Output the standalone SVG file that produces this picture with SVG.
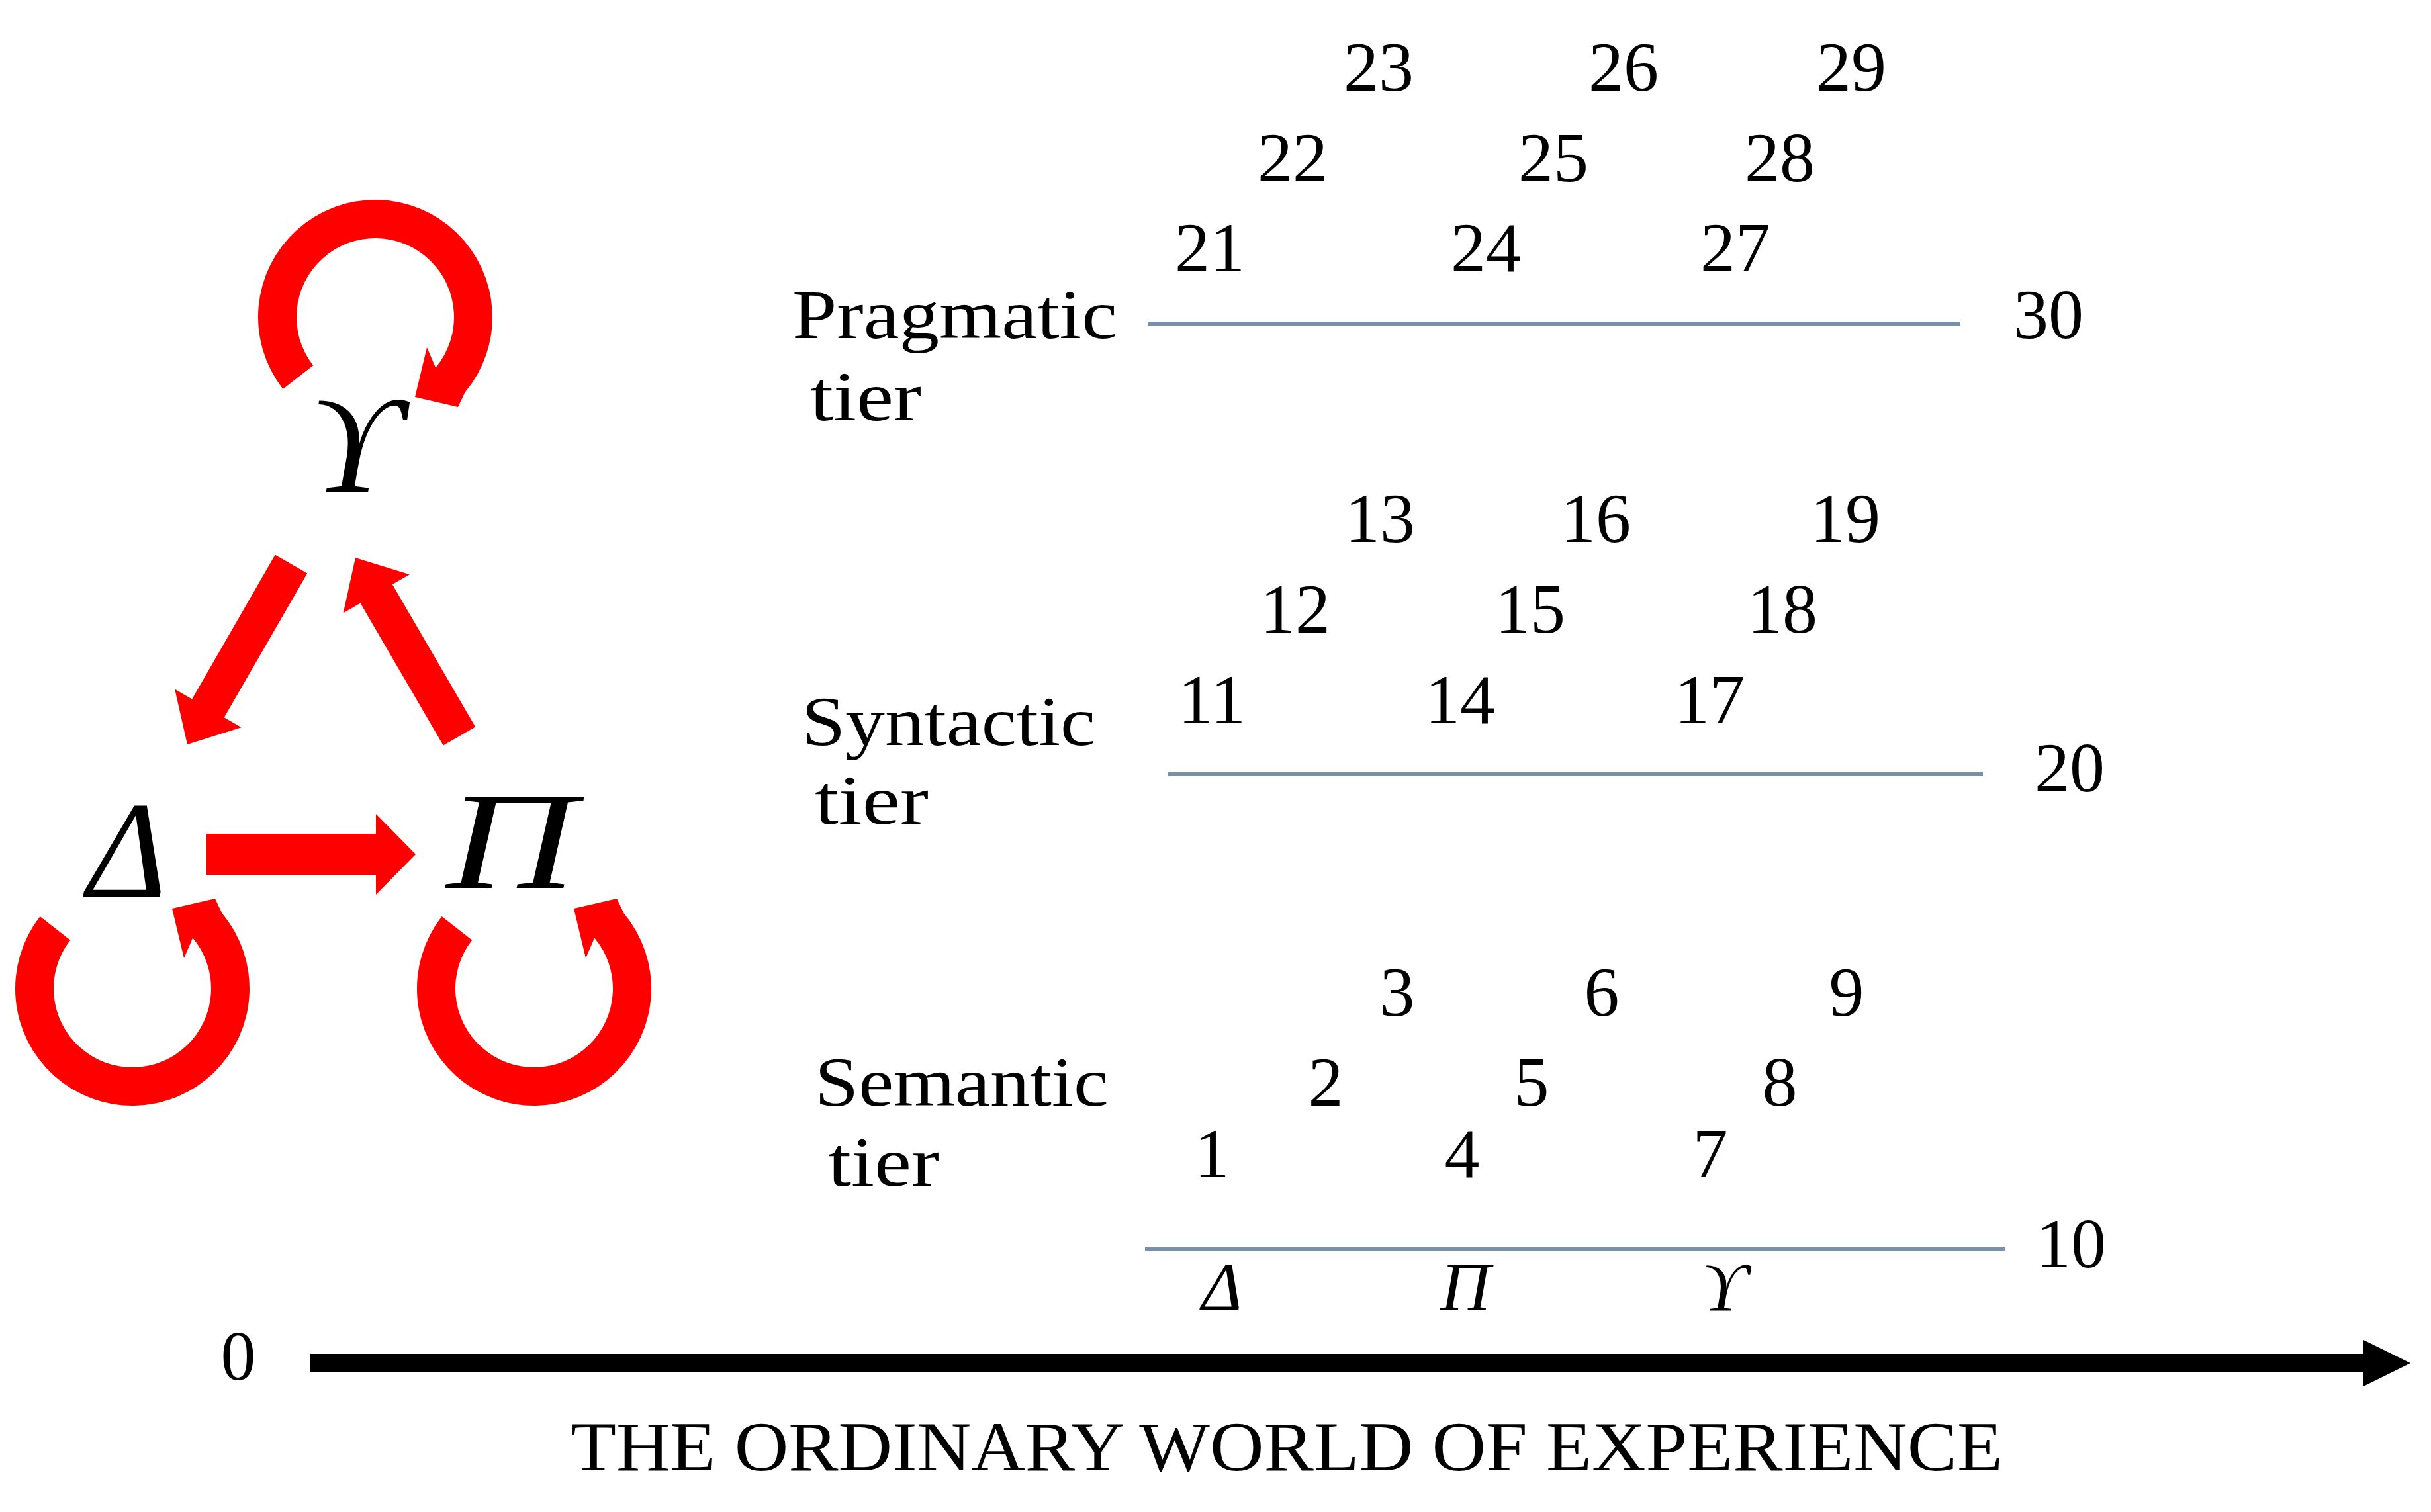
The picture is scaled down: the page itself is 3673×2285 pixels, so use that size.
<svg xmlns="http://www.w3.org/2000/svg" width="3673" height="2285" viewBox="0 0 3673 2285">
<style>
text{font-family:"Liberation Serif","DejaVu Serif",serif;fill:#000}
.num{font-size:106px;text-anchor:middle}
.lbl{font-size:106px}
.big{font-size:210px;font-style:italic;text-anchor:middle}
.sm{font-size:104px;font-style:italic;text-anchor:middle}
.red{fill:#ff0000}
.tier{stroke:#7890a8;stroke-width:6;fill:none}
</style>
<defs>
<path id="loop" d="M -139.5 109 A 177 177 0 1 1 135.6 113.8 L 125 136 L 60 121 L 78 46 L 91.2 76.5 A 119 119 0 1 0 -93.8 73.3 Z"/>
</defs>
<rect width="3673" height="2285" fill="#fff"/>

<g id="connectors">
<use href="#loop" class="red" transform="translate(567,479)"/>
<use href="#loop" class="red" transform="translate(200,1494) scale(1,-1)"/>
<use href="#loop" class="red" transform="translate(807,1494) scale(1,-1)"/>
<polygon class="red" points="415.7,838.6 464.3,866.4 338.7,1084.3 364.7,1099.3 283,1125 264.1,1041.5 290.1,1056.5"/>
<polygon class="red" points="718.2,1098.4 592.9,883.3 618.8,868.2 537,843 518.6,926.6 544.5,911.5 669.8,1126.6"/>
<polygon class="red" points="312,1260 568,1260 568,1230 628,1291 568,1352 568,1322 312,1322"/>
</g>

<g id="node-upsilon"><text class="big" x="536" y="743">ϒ</text></g>
<g id="node-delta"><text class="big" x="192" y="1356" textLength="120" lengthAdjust="spacingAndGlyphs">Δ</text></g>
<g id="node-pi"><text class="big" x="772" y="1342" textLength="195" lengthAdjust="spacingAndGlyphs">Π</text></g>

<g id="pragmatic-tier">
<text class="lbl" x="1197" y="511" textLength="491" lengthAdjust="spacingAndGlyphs">Pragmatic</text>
<text class="lbl" x="1224" y="635" textLength="168" lengthAdjust="spacingAndGlyphs">tier</text>
<line class="tier" x1="1734" y1="489" x2="2962" y2="489"/>
<text class="num" x="1828" y="410">21</text>
<text class="num" x="1953" y="274">22</text>
<text class="num" x="2083" y="137">23</text>
<text class="num" x="2245" y="410">24</text>
<text class="num" x="2347" y="274">25</text>
<text class="num" x="2453" y="137">26</text>
<text class="num" x="2622" y="410">27</text>
<text class="num" x="2689" y="274">28</text>
<text class="num" x="2797" y="137">29</text>
<text class="num" x="3095" y="511">30</text>
</g>

<g id="syntactic-tier">
<text class="lbl" x="1211" y="1126" textLength="444" lengthAdjust="spacingAndGlyphs">Syntactic</text>
<text class="lbl" x="1231" y="1245" textLength="172" lengthAdjust="spacingAndGlyphs">tier</text>
<line class="tier" x1="1765" y1="1170" x2="2996" y2="1170"/>
<text class="num" x="1831" y="1093">11</text>
<text class="num" x="1957" y="956">12</text>
<text class="num" x="2085" y="819">13</text>
<text class="num" x="2206" y="1093">14</text>
<text class="num" x="2312" y="956">15</text>
<text class="num" x="2411" y="819">16</text>
<text class="num" x="2583" y="1093">17</text>
<text class="num" x="2693" y="956">18</text>
<text class="num" x="2788" y="819">19</text>
<text class="num" x="3127" y="1196">20</text>
</g>

<g id="semantic-tier">
<text class="lbl" x="1231" y="1671" textLength="444" lengthAdjust="spacingAndGlyphs">Semantic</text>
<text class="lbl" x="1251" y="1792" textLength="168" lengthAdjust="spacingAndGlyphs">tier</text>
<line class="tier" x1="1730" y1="1888" x2="3030" y2="1888"/>
<text class="num" x="1831" y="1779">1</text>
<text class="num" x="2003" y="1671">2</text>
<text class="num" x="2111" y="1535">3</text>
<text class="num" x="2209" y="1779">4</text>
<text class="num" x="2314" y="1671">5</text>
<text class="num" x="2420" y="1535">6</text>
<text class="num" x="2584" y="1779">7</text>
<text class="num" x="2689" y="1671">8</text>
<text class="num" x="2790" y="1535">9</text>
<text class="num" x="3129" y="1915">10</text>
<text class="sm" x="1846" y="1980">Δ</text>
<text class="sm" x="2214" y="1980">Π</text>
<text class="sm" x="2605" y="1980">ϒ</text>
</g>

<g id="axis">
<text class="num" x="360" y="2085">0</text>
<rect x="468" y="2046" width="3107" height="28" fill="#000"/>
<polygon points="3571,2025 3642,2060 3571,2095" fill="#000"/>
<text class="lbl" x="862" y="2222" textLength="2164" lengthAdjust="spacingAndGlyphs">THE ORDINARY WORLD OF EXPERIENCE</text>
</g>
</svg>
